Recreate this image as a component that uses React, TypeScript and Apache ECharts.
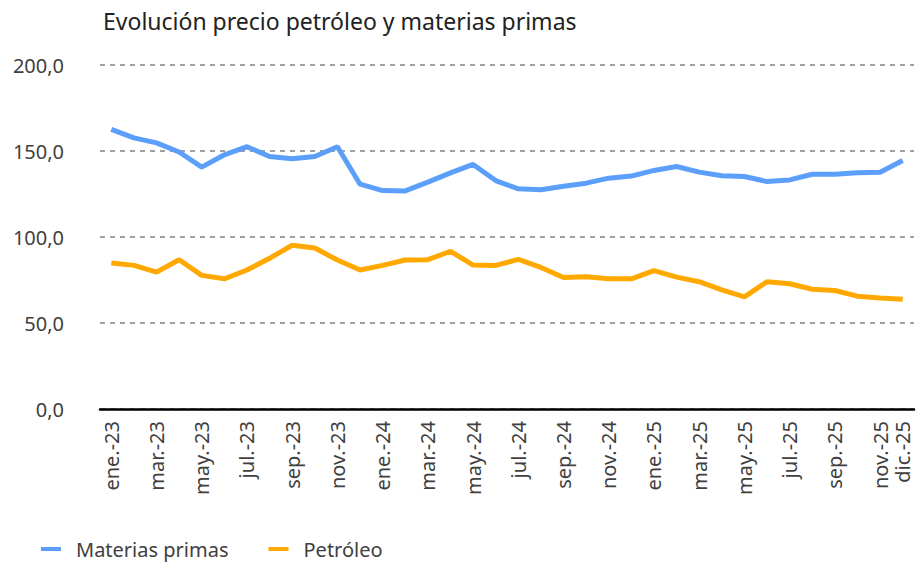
import React, { useEffect, useRef } from "react";
import * as echarts from "echarts";

const years = ["23", "24", "25"];
const months = ["ene.", "feb.", "mar.", "abr.", "may.", "jun.", "jul.", "ago.", "sep.", "oct.", "nov.", "dic."];
const categories: string[] = years.flatMap((y) => months.map((m) => `${m}-${y}`));

const materiasPrimas = [
  162.6, 157.6, 154.7, 149.4, 140.6, 147.8, 152.5, 146.8, 145.5, 146.8, 152.5, 130.7,
  127.0, 126.8, 131.9, 137.3, 142.2, 132.8, 128.0, 127.5, 129.5, 131.3, 134.2, 135.4,
  138.7, 141.0, 137.7, 135.6, 135.2, 132.2, 133.2, 136.5, 136.5, 137.3, 137.7, 144.5,
];

const petroleo = [
  84.9, 83.5, 79.6, 86.8, 77.7, 75.7, 80.8, 87.6, 95.2, 93.6, 86.6, 80.8,
  83.5, 86.6, 86.8, 91.7, 83.7, 83.5, 87.0, 82.3, 76.5, 76.9, 75.7, 75.7,
  80.4, 76.7, 74.0, 69.3, 65.2, 74.0, 72.8, 69.6, 68.9, 65.6, 64.6, 63.8,
];

const FONT = "'Noto Sans', sans-serif";

export default function App() {
  const ref = useRef<HTMLDivElement>(null);
  useEffect(() => {
    if (!ref.current) return;
    const chart = echarts.init(ref.current, null, { renderer: "svg" });
    chart.setOption({
      animation: false,
      backgroundColor: "#ffffff",
      title: {
        text: "Evolución precio petróleo y materias primas",
        left: 98,
        top: 4,
        textStyle: { fontFamily: FONT, fontSize: 23, fontWeight: "normal", color: "#222222" },
      },
      legend: {
        bottom: 5,
        left: 36,
        icon: "rect",
        itemWidth: 20,
        itemHeight: 4,
        itemGap: 40,
        textStyle: { fontFamily: FONT, fontSize: 20, color: "#404040", padding: [0, 0, 0, 10] },
        data: ["Materias primas", "Petróleo"],
      },
      grid: { left: 100, right: 2, top: 65, bottom: 160, outerBoundsMode: "none" },
      xAxis: {
        type: "category",
        data: categories,
        boundaryGap: true,
        axisLine: { lineStyle: { color: "#000000", width: 2.5 } },
        axisTick: { show: false },
        axisLabel: {
          rotate: 90,
          interval: (i: number) => i % 2 === 0 || i === categories.length - 1,
          fontFamily: FONT,
          fontSize: 20,
          color: "#404040",
          margin: 12,
        },
      },
      yAxis: {
        type: "value",
        min: 0,
        max: 200,
        interval: 50,
        axisLine: { show: false },
        axisTick: { show: false },
        axisLabel: {
          formatter: (v: number) => v.toFixed(1).replace(".", ","),
          fontFamily: FONT,
          fontSize: 20,
          color: "#404040",
          margin: 36,
        },
        splitLine: { lineStyle: { color: "#a0a0a0", width: 2, type: [5, 5] } },
      },
      series: [
        {
          name: "Materias primas",
          type: "line",
          data: materiasPrimas,
          symbol: "none",
          color: "#5b9ffa",
          lineStyle: { width: 5, color: "#5b9ffa" },
        },
        {
          name: "Petróleo",
          type: "line",
          data: petroleo,
          symbol: "none",
          color: "#ffa800",
          lineStyle: { width: 5, color: "#ffa800" },
        },
      ],
    });
    return () => chart.dispose();
  }, []);
  return (
    <div
      ref={ref}
      style={{ position: "fixed", left: 0, top: 0, width: 916, height: 569 }}
    />
  );
}
